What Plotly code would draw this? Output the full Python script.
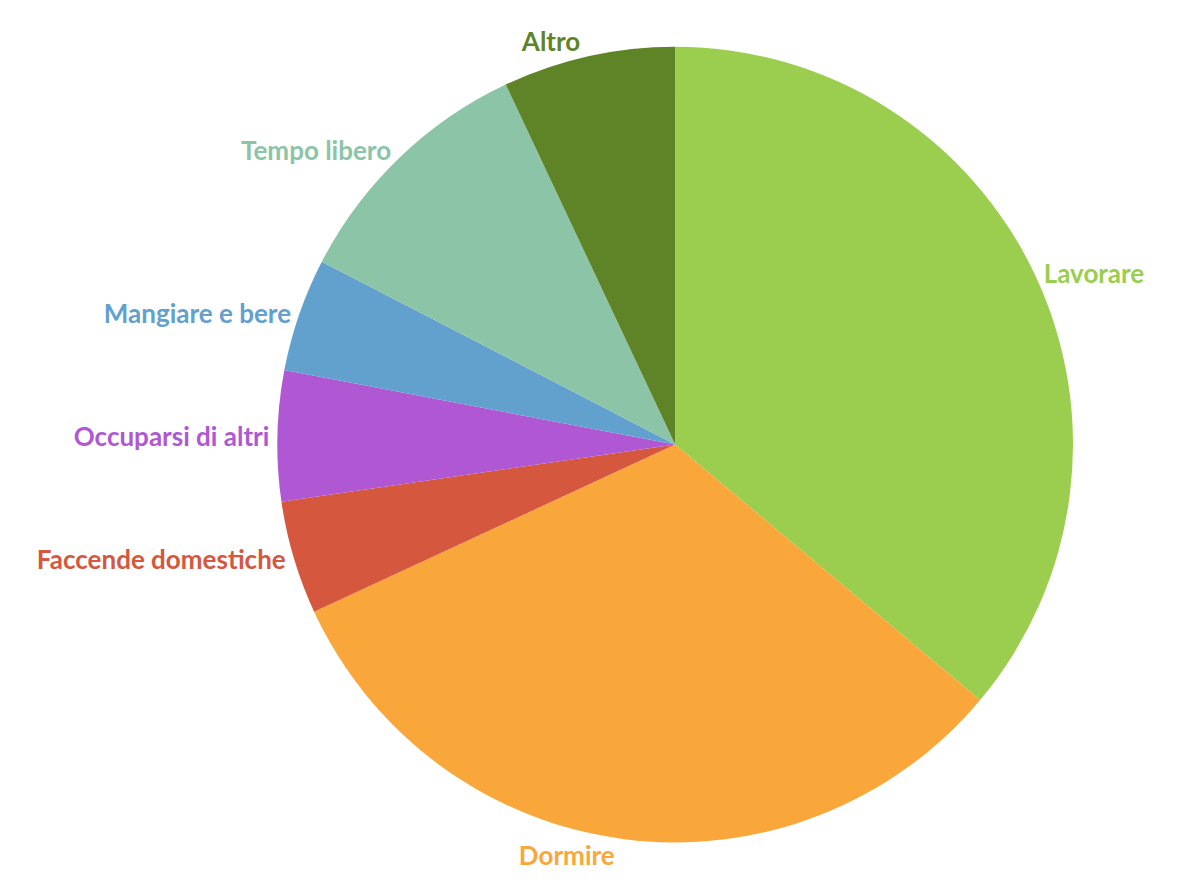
import plotly.graph_objects as go

categories = ["Lavorare", "Dormire", "Faccende domestiche", "Occuparsi di altri",
              "Mangiare e bere", "Tempo libero", "Altro"]
values = [36.1, 32.0, 4.6, 5.3, 4.6, 10.4, 7.0]
colors = ["#9BCE4E", "#F9A73A", "#D4573E", "#B057D4", "#62A0CE", "#8BC4A6", "#5F8427"]

fig = go.Figure(go.Pie(
    labels=categories,
    values=values,
    sort=False,
    direction="clockwise",
    rotation=0,
    marker=dict(colors=colors, line=dict(width=0)),
    textinfo="label",
    textposition="outside",
    outsidetextfont=dict(color=colors, size=26, family="Lato", weight="bold"),
    showlegend=False,
    domain=dict(x=[0.172, 1.0], y=[0.0, 0.965]),
    hoverinfo="label+percent",
))

fig.update_layout(
    width=1182, height=892,
    margin=dict(l=0, r=0, t=0, b=0),
    paper_bgcolor="white",
    plot_bgcolor="white",
)

fig.write_html("out.html")
